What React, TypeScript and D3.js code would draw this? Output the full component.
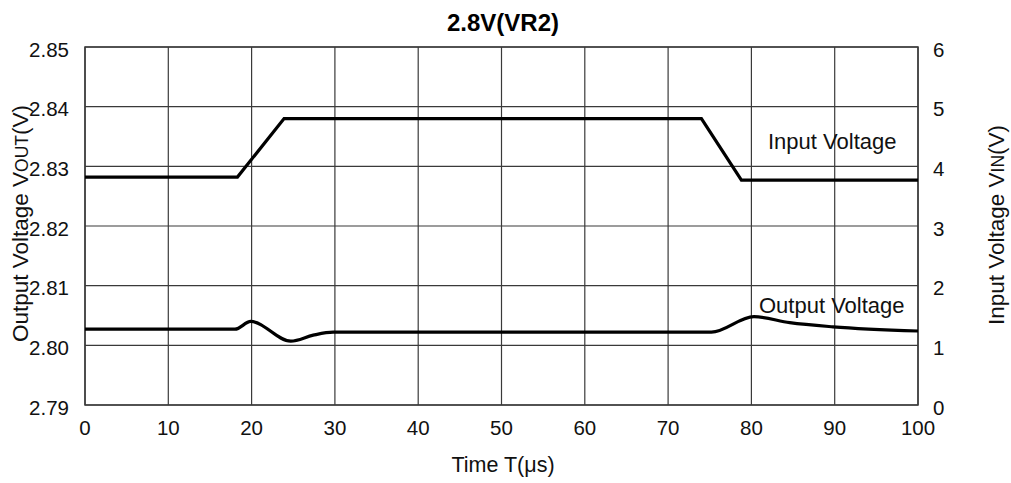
import React from "react";
import * as d3 from "d3";

const timeTicks = [0, 10, 20, 30, 40, 50, 60, 70, 80, 90, 100];
const outTicks = [2.79, 2.8, 2.81, 2.82, 2.83, 2.84, 2.85];
const inTicks = [0, 1, 2, 3, 4, 5, 6];

const inputT = [0, 18.3, 23.9, 74.0, 78.8, 100];
const inputV = [3.82, 3.82, 4.8, 4.8, 3.77, 3.77];

const outputT = [0, 18.0, 19.9, 24.7, 27.4, 29.8, 75.2, 80.3, 84.6, 89.8, 100];
const outputV = [2.8027, 2.8027, 2.804, 2.8007, 2.8017, 2.8022, 2.8022, 2.8048, 2.8038, 2.8031, 2.8024];

const W = 1011, H = 483;
const L = 85, R = 918, T = 47, B = 405;
const FONT = "'Liberation Sans', Arial, Helvetica, sans-serif";

export default function App() {
  const x = d3.scaleLinear().domain([0, 100]).range([L, R]);
  const yL = d3.scaleLinear().domain([2.79, 2.85]).range([B, T]);
  const yR = d3.scaleLinear().domain([0, 6]).range([B, T]);

  const inLine = d3.line<number>().x((_, i) => x(inputT[i])).y((v) => yR(v))(inputV) || "";
  const outLine = d3
    .line<number>()
    .x((_, i) => x(outputT[i]))
    .y((v) => yL(v))
    .curve(d3.curveMonotoneX)(outputV) || "";

  const grid = "#3a3a3a";
  return (
    <svg width={W} height={H} style={{ position: "absolute", left: 0, top: 0, background: "#fff" }} fontFamily={FONT}>
      <rect x={0} y={0} width={W} height={H} fill="#fff" />
      {timeTicks.map((t) => (
        <line key={"gx" + t} x1={x(t)} x2={x(t)} y1={T} y2={B} stroke={grid} strokeWidth={1.2} />
      ))}
      {outTicks.map((t) => (
        <line key={"gy" + t} x1={L} x2={R} y1={yL(t)} y2={yL(t)} stroke={grid} strokeWidth={1.2} />
      ))}
      <rect x={L} y={T} width={R - L} height={B - T} fill="none" stroke={grid} strokeWidth={1.5} />

      <path d={inLine} fill="none" stroke="#000" strokeWidth={3.2} strokeLinejoin="miter" />
      <path d={outLine} fill="none" stroke="#000" strokeWidth={3.2} />

      {outTicks.map((t) => (
        <text key={"lt" + t} x={69} y={yL(t) + 2} textAnchor="end" dominantBaseline="central" fontSize={20.5} fill="#111">
          {t.toFixed(2)}
        </text>
      ))}
      {inTicks.map((t) => (
        <text key={"rt" + t} x={933} y={yR(t) + 2} textAnchor="start" dominantBaseline="central" fontSize={20.5} fill="#111">
          {t}
        </text>
      ))}
      {timeTicks.map((t) => (
        <text key={"xt" + t} x={x(t)} y={435} textAnchor="middle" fontSize={20.5} fill="#111">
          {t}
        </text>
      ))}

      <text x={503} y={31} textAnchor="middle" fontSize={24} fontWeight="bold" fill="#000">
        2.8V(VR2)
      </text>
      <text x={503} y={472} textAnchor="middle" fontSize={21.5} fill="#111">
        Time T(μs)
      </text>

      <text x={768} y={149} fontSize={22} fill="#111">Input Voltage</text>
      <text x={759} y={313} fontSize={22} fill="#111">Output Voltage</text>

      <text transform={`translate(28,223.5) rotate(-90)`} textAnchor="middle" fontSize={22.5} fill="#111">
        Output Voltage V<tspan fontSize={17.5}>OUT</tspan>(V)
      </text>
      <text transform={`translate(1004,225) rotate(-90)`} textAnchor="middle" fontSize={22.5} fill="#111">
        Input Voltage V<tspan fontSize={17.5}>IN</tspan>(V)
      </text>
    </svg>
  );
}
